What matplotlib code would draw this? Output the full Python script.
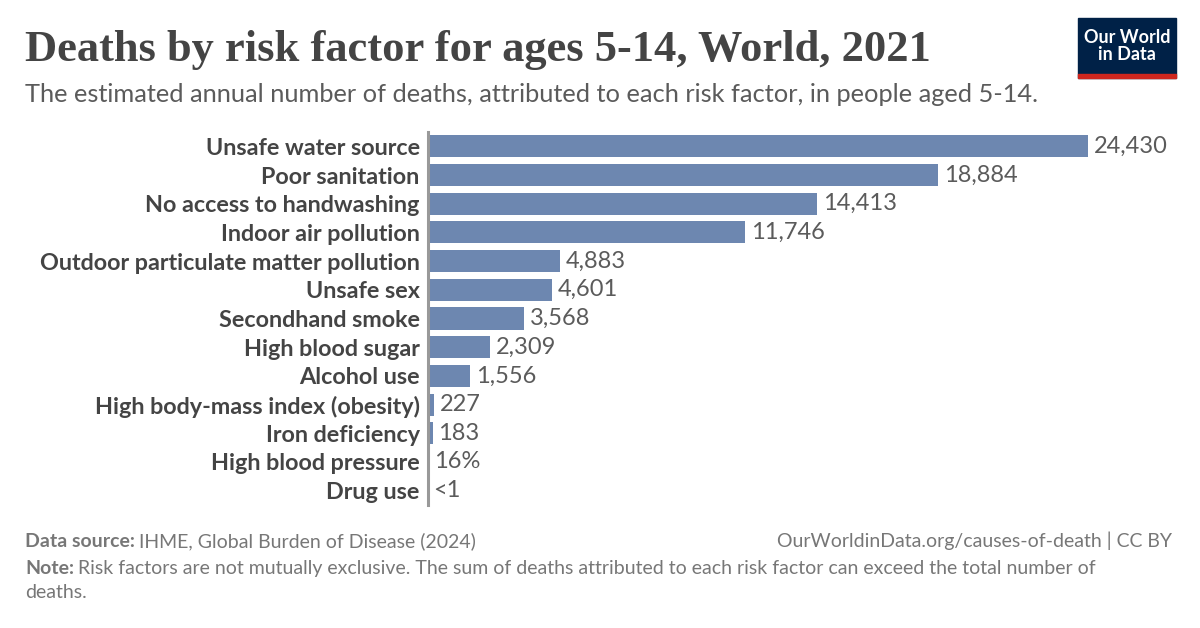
import matplotlib.pyplot as plt
from matplotlib.patches import Rectangle

# data
factors = [
    "Unsafe water source", "Poor sanitation", "No access to handwashing",
    "Indoor air pollution", "Outdoor particulate matter pollution", "Unsafe sex",
    "Secondhand smoke", "High blood sugar", "Alcohol use",
    "High body-mass index (obesity)", "Iron deficiency", "High blood pressure",
    "Drug use",
]
deaths = [24430, 18884, 14413, 11746, 4883, 4601, 3568, 2309, 1556, 227, 183, 16, 0.5]
value_labels = ["24,430", "18,884", "14,413", "11,746", "4,883", "4,601", "3,568",
                "2,309", "1,556", "227", "183", "16%", "<1"]

bar_color = "#6d87b0"
text_dark = "#444444"
text_mid = "#5b5b5b"
text_light = "#777777"

plt.rcParams['font.family'] = ['Lato', 'DejaVu Sans']

fig = plt.figure(figsize=(12, 6.28), dpi=100)
ax = fig.add_axes([428 / 1200, 1 - 505 / 628, 660 / 1200, (505 - 132) / 628])

y = list(range(len(factors)))
ax.barh(y, deaths, height=0.77, color=bar_color)
ax.set_xlim(0, max(deaths))
ax.set_ylim(len(factors) - 0.5, -0.5)

for yi, v, lab in zip(y, deaths, value_labels):
    ax.annotate(lab, (v, yi), xytext=(4, 0), textcoords='offset points',
                va='center', ha='left', fontsize=17, color=text_mid)

ax.set_yticks(y)
ax.set_yticklabels(factors, fontsize=16.8, fontweight='bold', color=text_dark)
ax.tick_params(axis='y', length=0, pad=6)
ax.set_xticks([])
for s in ['top', 'right', 'bottom']:
    ax.spines[s].set_visible(False)
ax.spines['left'].set_color('#999999')
ax.spines['left'].set_linewidth(2.2)

# title and subtitle
fig.text(25 / 1200, 1 - 50 / 628, "Deaths by risk factor for ages 5-14, World, 2021",
         family=['Liberation Serif', 'DejaVu Serif'], fontsize=32, fontweight='bold',
         color=text_dark, va='center')
fig.text(25 / 1200, 1 - 95 / 628,
         "The estimated annual number of deaths, attributed to each risk factor, in people aged 5-14.",
         fontsize=18.3, color=text_mid, va='center')

# logo
fig.patches.append(Rectangle((1078 / 1200, 1 - 78 / 628), 98 / 1200, 60 / 628,
                             transform=fig.transFigure, color='#002147', zorder=1))
fig.patches.append(Rectangle((1078 / 1200, 1 - 78 / 628), 98 / 1200, 4 / 628,
                             transform=fig.transFigure, color='#ce261e', zorder=2))
fig.text(1127 / 1200, 1 - 46 / 628, "Our World\nin Data", color='white', fontsize=13,
         fontweight='bold', ha='center', va='center', linespacing=1.0, zorder=3)

# footer: bold lead-in followed by regular text
renderer = fig.canvas.get_renderer()


def footer_line(x_px, y_px, bold, rest, va='baseline'):
    t = fig.text(x_px / 1200, 1 - y_px / 628, bold, fontsize=14, fontweight='bold',
                 color=text_light, va=va)
    w = t.get_window_extent(renderer).width
    fig.text((x_px + w + 4) / 1200, 1 - y_px / 628, rest, fontsize=14,
             color=text_light, va=va, linespacing=1.45)


footer_line(25, 547, "Data source:", "IHME, Global Burden of Disease (2024)")
fig.text(1172 / 1200, 1 - 547 / 628, "OurWorldinData.org/causes-of-death | CC BY",
         fontsize=14, color=text_light, va='baseline', ha='right')
footer_line(25, 574, "Note:",
            "Risk factors are not mutually exclusive. The sum of deaths attributed to each risk factor can exceed the total number of")
fig.text(25 / 1200, 1 - 598 / 628, "deaths.", fontsize=14, color=text_light, va='baseline')

fig.savefig("out.png", dpi=100)
